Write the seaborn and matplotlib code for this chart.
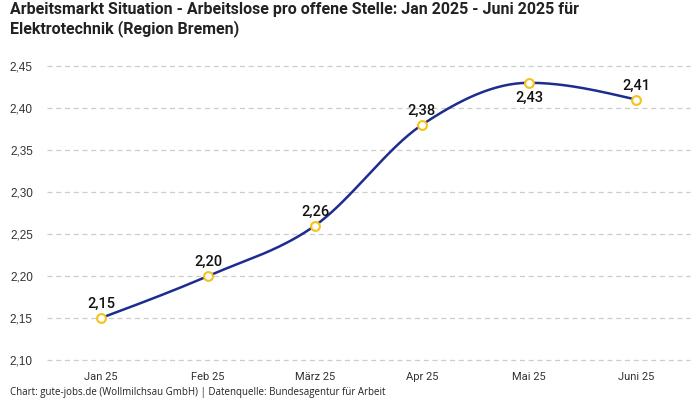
import numpy as np
import pandas as pd
import matplotlib
matplotlib.use("Agg")
import matplotlib.pyplot as plt
import seaborn as sns

months = ["Jan 25", "Feb 25", "März 25", "Apr 25", "Mai 25", "Juni 25"]
values = [2.15, 2.20, 2.26, 2.38, 2.43, 2.41]
label_below = [False, False, False, False, True, False]
yticks = [2.10, 2.15, 2.20, 2.25, 2.30, 2.35, 2.40, 2.45]

title = "Arbeitsmarkt Situation - Arbeitslose pro offene Stelle: Jan 2025 - Juni 2025 für\nElektrotechnik (Region Bremen)"
footer = "Chart: gute-jobs.de (Wollmilchsau GmbH) | Datenquelle: Bundesagentur für Arbeit"


def monotone_curve(x, y, n=40):
    # monotone cubic like d3.curveMonotoneX
    x = np.asarray(x, float)
    y = np.asarray(y, float)
    h = np.diff(x)
    s = np.diff(y) / h
    t = np.zeros(len(x))
    for i in range(1, len(x) - 1):
        p = (s[i - 1] * h[i] + s[i] * h[i - 1]) / (h[i - 1] + h[i])
        t[i] = (np.sign(s[i - 1]) + np.sign(s[i])) * min(abs(s[i - 1]), abs(s[i]), 0.5 * abs(p))
    t[0] = (3 * s[0] - t[1]) / 2
    t[-1] = (3 * s[-1] - t[-2]) / 2
    xs, ys = [], []
    for i in range(len(x) - 1):
        dx = h[i] / 3
        p0 = np.array([x[i], y[i]])
        p1 = np.array([x[i] + dx, y[i] + dx * t[i]])
        p2 = np.array([x[i + 1] - dx, y[i + 1] - dx * t[i + 1]])
        p3 = np.array([x[i + 1], y[i + 1]])
        u = np.linspace(0, 1, n)[:, None]
        pts = (1 - u) ** 3 * p0 + 3 * (1 - u) ** 2 * u * p1 + 3 * (1 - u) * u ** 2 * p2 + u ** 3 * p3
        xs.extend(pts[:, 0])
        ys.extend(pts[:, 1])
    return np.array(xs), np.array(ys)


sns.set_style("white")
plt.rcParams["font.family"] = ["Roboto", "DejaVu Sans"]

df = pd.DataFrame({"pos": np.arange(len(months)), "value": values})
cx, cy = monotone_curve(df["pos"], df["value"])

fig = plt.figure(figsize=(7, 4), dpi=100)
ax = fig.add_axes([47.5 / 700, 40 / 400, 642 / 700, 294 / 400])

for yv in yticks:
    ax.axhline(yv, color="#cccccc", lw=0.9, ls=(0, (4, 3)), zorder=0)

sns.lineplot(x=cx, y=cy, ax=ax, color="#1c2d8f", lw=1.8, sort=False, zorder=2)
sns.scatterplot(data=df, x="pos", y="value", ax=ax, s=40, color="white",
                edgecolor="#f5c21b", linewidth=1.5, zorder=3)

for i, (v, below) in enumerate(zip(values, label_below)):
    off = -15 if below else 14
    ax.annotate(f"{v:.2f}".replace(".", ","), (i, v), xytext=(0, off),
                textcoords="offset pixels", ha="center", va="center",
                fontsize=10.5, color="#111111", fontweight="medium")

ax.set_xlim(-0.5, len(months) - 0.5)
ax.set_ylim(2.10, 2.45)
ax.set_xticks(range(len(months)))
ax.set_xticklabels(months, fontsize=8, color="#333333")
ax.set_yticks(yticks)
ax.set_yticklabels([f"{v:.2f}".replace(".", ",") for v in yticks], fontsize=8.5,
                   color="#333333", family="Liberation Sans")
ax.tick_params(axis="both", length=0)
ax.tick_params(axis="y", pad=10.5)
ax.tick_params(axis="x", pad=9)
ax.set_xlabel("")
ax.set_ylabel("")
for sp in ax.spines.values():
    sp.set_visible(False)
for art in ax.lines + ax.collections:
    art.set_clip_on(False)

fig.text(10 / 700, 1 - 2 / 400, title, ha="left", va="top", fontsize=11.5,
         fontweight="bold", color="#222222", linespacing=1.2)
fig.text(10 / 700, 7 / 400, footer, ha="left", va="center", fontsize=7,
         color="#222222", family="Open Sans")

fig.savefig("out.png", dpi=100)
